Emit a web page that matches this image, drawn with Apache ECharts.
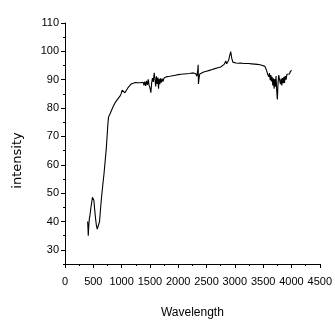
<!DOCTYPE html>
<html>
<head>
<meta charset="utf-8">
<script src="https://cdn.jsdelivr.net/npm/echarts@6/dist/echarts.min.js"></script>
<style>
  body { margin: 0; background: #fff; }
  #chart { width: 335px; height: 324px; }
</style>
</head>
<body>
<div id="chart"></div>
<script>
// spectrum
var wavelength = [
  400, 405, 411, 420, 430, 440, 455, 470, 485, 497, 510, 525, 540, 555, 570, 580, 595, 610, 630, 650,
  670, 690, 710, 729, 745, 758, 769, 780, 800, 830, 855, 885, 910, 940, 971, 990, 1010, 1028, 1040, 1057,
  1080, 1110, 1140, 1170, 1200, 1240, 1287, 1320, 1340, 1360, 1380, 1395, 1410, 1425, 1440, 1455, 1470, 1485, 1500, 1517,
  1530, 1545, 1560, 1575, 1590, 1602, 1615, 1628, 1640, 1652, 1663, 1675, 1688, 1700, 1715, 1730, 1750, 1775, 1805, 1850,
  1900, 1950, 2000, 2050, 2100, 2150, 2200, 2266, 2310, 2330, 2345, 2352, 2357, 2368, 2380, 2409, 2450, 2500, 2550, 2600,
  2650, 2700, 2750, 2784, 2810, 2841, 2855, 2870, 2890, 2910, 2927, 2945, 2965, 2985, 3020, 3060, 3100, 3157, 3187, 3240,
  3300, 3350, 3400, 3446, 3490, 3532, 3550, 3565, 3578, 3589, 3600, 3612, 3625, 3636, 3647, 3658, 3670, 3682, 3693, 3705,
  3716, 3728, 3740, 3751, 3762, 3775, 3791, 3805, 3818, 3830, 3842, 3855, 3867, 3877, 3890, 3905, 3920, 3935, 3950, 3965,
  3980, 4003
];
var intensity = [
  40, 38, 35, 38.5, 41, 42, 44.5, 46.5, 48.5, 49.2, 47.5, 44, 41, 38.5, 37.3, 37.6, 37.5, 40, 45, 49.5,
  53.3, 57, 61.5, 65.6, 70.5, 74.5, 76.8, 77.3, 78.2, 79.6, 80.7, 81.9, 82.6, 83.4, 84.2, 85.0, 86.3, 86.8, 85.7, 85.4,
  86.0, 87.1, 87.8, 88.5, 88.9, 89.0, 88.9, 88.6, 88.9, 88.3, 89.1, 88.0, 89.3, 87.8, 89.6, 88.2, 90.1, 88.0, 87.2, 85.4,
  88.8, 90.6, 89.2, 92.4, 90.0, 87.6, 91.2, 88.5, 90.8, 86.8, 90.3, 88.4, 90.5, 89.0, 90.4, 89.3, 90.6, 90.3, 91.1, 91.2,
  91.4, 91.6, 91.8, 91.9, 92.0, 92.1, 92.2, 92.4, 92.1, 91.2, 93.5, 95.3, 88.5, 90.5, 92.0, 92.4, 92.7, 93.0, 93.3, 93.6,
  93.9, 94.2, 94.5, 94.7, 95.4, 96.6, 95.6, 95.3, 96.8, 98.6, 99.9, 97.6, 96.2, 95.7, 95.9, 95.8, 95.9, 95.7, 95.9, 95.7,
  95.6, 95.5, 95.4, 95.3, 95.0, 94.7, 93.8, 93.0, 92.0, 92.6, 91.0, 92.3, 89.8, 91.6, 89.4, 91.0, 88.0, 90.5, 86.8, 90.2,
  87.5, 91.3, 86.0, 83.0, 88.5, 91.6, 91.2, 88.4, 90.4, 88.0, 90.6, 88.8, 91.0, 88.9, 91.3, 90.0, 91.9, 91.2, 92.4, 92.0,
  92.9, 93.3
];
var yLabels = [30, 40, 50, 60, 70, 80, 90, 100, 110];

var points = wavelength.map(function (w, i) { return [w, intensity[i]]; });

var chart = echarts.init(document.getElementById('chart'));
var labelFont = { color: '#000', fontFamily: 'Liberation Sans Narrow, Liberation Sans, Arial, sans-serif', fontSize: 11 };
var black = { color: '#000', width: 1 };

chart.setOption({
  animation: false,
  grid: { left: 65, right: 9, top: 23, bottom: 58 },
  xAxis: {
    type: 'value',
    min: 0,
    max: 4500,
    interval: 500,
    name: 'Wavelength',
    nameLocation: 'middle',
    nameGap: 43,
    nameTextStyle: { color: '#000', fontFamily: 'Liberation Sans Narrow, Liberation Sans, Arial, sans-serif', fontSize: 12 },
    axisLine: { lineStyle: black },
    axisTick: { length: 4, lineStyle: black },
    minorTick: { show: true, splitNumber: 2, length: 2, lineStyle: black },
    axisLabel: Object.assign({ margin: 12, formatter: function (v) { return String(v); } }, labelFont),
    splitLine: { show: false }
  },
  yAxis: [
    {
      type: 'value',
      min: 25,
      max: 110,
      interval: 5,
      name: 'intensity',
      nameLocation: 'middle',
      nameGap: 41,
      nameTextStyle: { color: '#000', fontFamily: 'DejaVu Sans', fontSize: 13, padding: [0, 34, 0, 0] },
      axisLine: { lineStyle: black },
      axisTick: { length: 2, lineStyle: black },
      axisLabel: Object.assign({ margin: 6, customValues: yLabels, formatter: function (v) { return String(v); } }, labelFont),
      splitLine: { show: false }
    },
    {
      type: 'value',
      min: 25,
      max: 110,
      position: 'left',
      axisLine: { show: false },
      axisTick: { show: true, length: 4, lineStyle: black, customValues: yLabels },
      axisLabel: { show: false },
      splitLine: { show: false }
    }
  ],
  series: [
    {
      type: 'line',
      data: points,
      showSymbol: false,
      lineStyle: { color: '#000', width: 1.1 }
    }
  ]
});
</script>
</body>
</html>
